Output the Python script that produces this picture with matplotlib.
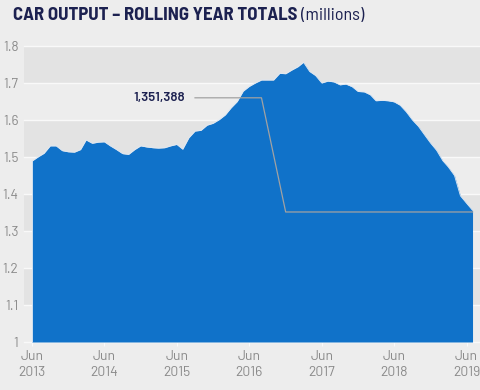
import matplotlib
matplotlib.use("Agg")
import matplotlib.pyplot as plt
import matplotlib.dates as mdates
import pandas as pd

# ---- data ----
months = pd.date_range("2013-06-01", periods=74, freq="MS")
output_millions = [
    1.489, 1.500, 1.510, 1.530, 1.530, 1.517, 1.514, 1.513, 1.520, 1.546,
    1.537, 1.540, 1.541, 1.530, 1.520, 1.509, 1.507, 1.520, 1.530, 1.527,
    1.525, 1.524, 1.525, 1.530, 1.534, 1.521, 1.552, 1.570, 1.572, 1.586,
    1.591, 1.601, 1.614, 1.633, 1.650, 1.678, 1.691, 1.700, 1.708, 1.708,
    1.708, 1.726, 1.725, 1.735, 1.744, 1.756, 1.731, 1.720, 1.700, 1.705,
    1.703, 1.695, 1.697, 1.690, 1.677, 1.676, 1.668, 1.652, 1.653, 1.652,
    1.649, 1.640, 1.622, 1.600, 1.583, 1.560, 1.538, 1.518, 1.490, 1.473,
    1.450, 1.395, 1.375, 1.356,
]
tick_dates = pd.to_datetime(["2013-06-01", "2014-06-01", "2015-06-01", "2016-06-01",
                             "2017-06-01", "2018-06-01", "2019-06-01"])
tick_labels = ["Jun\n2013", "Jun\n2014", "Jun\n2015", "Jun\n2016",
               "Jun\n2017", "Jun\n2018", "Jun\n2019"]
y_ticks = [1.0, 1.1, 1.2, 1.3, 1.4, 1.5, 1.6, 1.7, 1.8]
y_labels = ["1", "1.1", "1.2", "1.3", "1.4", "1.5", "1.6", "1.7", "1.8"]
band_starts = [1.1, 1.3, 1.5, 1.7]

annot_label = "1,351,388"
annot_dates = pd.to_datetime(["2015-09-01", "2016-08-01", "2016-12-01", "2019-07-01"])
annot_values = [1.660, 1.660, 1.3514, 1.3514]

# ---- style ----
BG = "#ededed"
BAND = "#e3e3e3"
GRID = "#f9f9f9"
BLUE = "#1072c9"
NAVY = "#1c2150"
GREY_TXT = "#8a8a8a"
FONT = ["Barlow", "DejaVu Sans"]
TITLE_FONT = ["Barlow Semi Condensed", "DejaVu Sans"]

plt.rcParams["font.family"] = FONT

fig = plt.figure(figsize=(4.8, 3.9), dpi=100, facecolor=BG)
ax = fig.add_axes([24 / 480, 1 - 342 / 390, 1 - 24 / 480, (342 - 46) / 390])
ax.set_facecolor(BG)

for b in band_starts:
    ax.axhspan(b, b + 0.1, color=BAND, lw=0, zorder=0)
for y in y_ticks:
    ax.axhline(y, color=GRID, lw=1.0, zorder=0.5, clip_on=False)

x = mdates.date2num(months)
ax.fill_between(x, output_millions, 1.0, color=BLUE, lw=0, zorder=2)
ax.plot(x, output_millions, color="#dfe8f3", lw=0.6, zorder=3)
ax.plot([x[0], x[0]], [1.0, output_millions[0]], color="#dfe8f3", lw=0.6, zorder=3)

# annotation
ax_ann = mdates.date2num(annot_dates)
ax.plot(ax_ann, annot_values, color="#a2a2a2", lw=0.9, zorder=4, clip_on=False)
ax.annotate(annot_label, xy=(ax_ann[0], annot_values[0]), xytext=(-7, 0),
            textcoords="offset points", ha="right", va="center",
            fontsize=9.5, fontweight="semibold", color=NAVY, zorder=5)

per_month = 30.44
ax.set_xlim(x[0] - 1.32 * per_month, x[0] + 74.2 * per_month)
ax.set_ylim(1.0, 1.8)

ax.set_xticks(mdates.date2num(tick_dates))
ax.set_xticklabels(tick_labels, fontsize=10, color=GREY_TXT, linespacing=1.3)
ax.set_yticks(y_ticks)
ax.set_yticklabels(y_labels, fontsize=9.8, color=GREY_TXT)
ax.tick_params(axis="x", length=3, width=0.8, color="#fafafa", pad=2.5)
ax.tick_params(axis="y", length=0, pad=4)
for s in ax.spines.values():
    s.set_visible(False)

# title
t1 = fig.text(13 / 480, 1 - 19.5 / 390, "CAR OUTPUT \u2013 ROLLING YEAR TOTALS",
              fontsize=13.5, fontweight="bold", color=NAVY, ha="left", va="baseline",
              family=TITLE_FONT)
fig.canvas.draw()
bb = t1.get_window_extent(renderer=fig.canvas.get_renderer())
fig.text(bb.x1 / fig.bbox.width + 4 / 480, 1 - 19.5 / 390, "(millions)",
         fontsize=13, color=NAVY, ha="left", va="baseline", family=TITLE_FONT)

fig.savefig("out.png", dpi=100, facecolor=BG)
